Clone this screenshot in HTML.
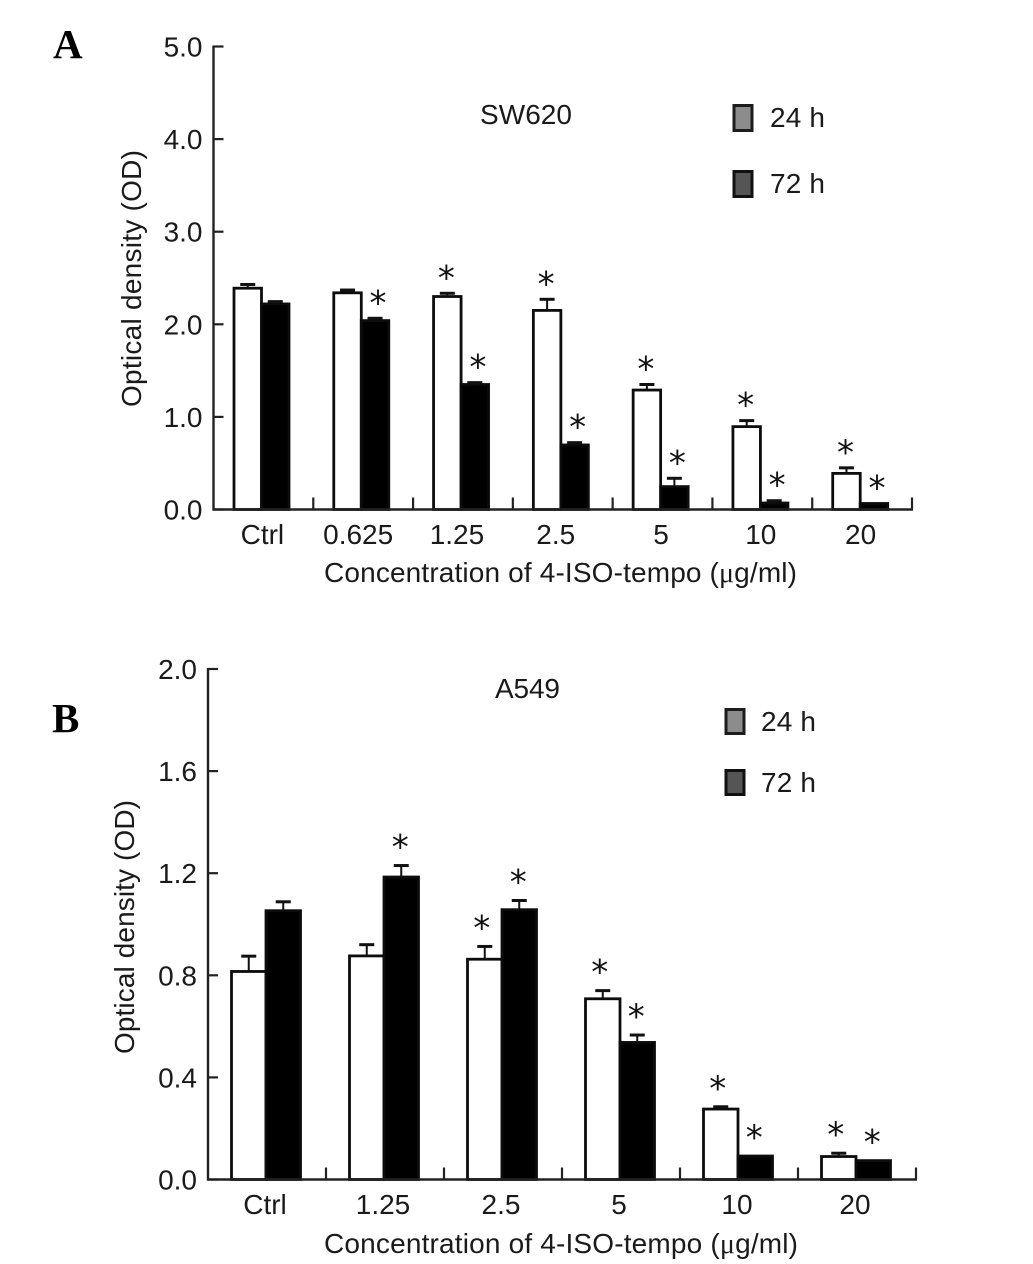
<!DOCTYPE html>
<html lang="en">
<head>
<meta charset="utf-8">
<title>Optical density of SW620 and A549 cells</title>
<style>
  html, body { margin: 0; padding: 0; background: #fff; }
  svg { display: block; }
  text { font-family: "Liberation Sans", sans-serif; fill: #1a1a1a; font-size: 28px; }
  .panel { font-family: "Liberation Serif", serif; font-weight: bold; font-size: 41px; fill: #000; }
  .mu { font-family: "Liberation Serif", serif; }
  .star { font-family: "DejaVu Sans", sans-serif; font-size: 34px; fill: #111; text-anchor: middle; }
</style>
</head>
<body>
<svg id="figure" xmlns="http://www.w3.org/2000/svg" width="1033" height="1264" viewBox="0 0 1033 1264">
  <rect width="1033" height="1264" fill="#fff"/>

  <text class="panel" x="53" y="58">A</text>
  <text x="480" y="124" textLength="92">SW620</text>
  <text transform="translate(141 407) rotate(-90)" textLength="257">Optical density (OD)</text>
  <text x="324" y="582" textLength="473">Concentration of 4-ISO-tempo (<tspan class="mu">μ</tspan>g/ml)</text>
  <rect x="734" y="105.5" width="18" height="25" fill="#8c8c8c" stroke="#1c1c1c" stroke-width="3"/>
  <text x="770" y="127" textLength="55">24 h</text>
  <rect x="734" y="171.5" width="18" height="25" fill="#555" stroke="#111" stroke-width="3"/>
  <text x="770" y="193" textLength="55">72 h</text>
  <g id="chart-a"></g>

  <text class="panel" x="52" y="732">B</text>
  <text x="495" y="698" textLength="65">A549</text>
  <text transform="translate(134 1054) rotate(-90)" textLength="254">Optical density (OD)</text>
  <text x="324" y="1253" textLength="474">Concentration of 4-ISO-tempo (<tspan class="mu">μ</tspan>g/ml)</text>
  <rect x="726" y="709.5" width="18" height="24" fill="#8c8c8c" stroke="#1c1c1c" stroke-width="3"/>
  <text x="761" y="731" textLength="55">24 h</text>
  <rect x="726" y="770.5" width="18" height="24" fill="#555" stroke="#111" stroke-width="3"/>
  <text x="761" y="792" textLength="55">72 h</text>
  <g id="chart-b"></g>
</svg>

<script>
// ---- Chart A (SW620) data ----
const categoriesA = ["Ctrl", "0.625", "1.25", "2.5", "5", "10", "20"];
const means24A = [2.39, 2.34, 2.30, 2.15, 1.29, 0.895, 0.39];
const means72A = [2.22, 2.04, 1.35, 0.697, 0.247, 0.07, 0.065];
const errors24A = [0.04, 0.03, 0.035, 0.12, 0.06, 0.065, 0.06];
const errors72A = [0.025, 0.025, 0.02, 0.025, 0.09, 0.025, 0];
const significant24A = [false, false, true, true, true, true, true];
const significant72A = [false, true, true, true, true, true, true];
const yTickValuesA = [0, 1, 2, 3, 4, 5];
const yTickLabelsA = ["0.0", "1.0", "2.0", "3.0", "4.0", "5.0"];

// ---- Chart B (A549) data ----
const categoriesB = ["Ctrl", "1.25", "2.5", "5", "10", "20"];
const means24B = [0.815, 0.876, 0.863, 0.708, 0.276, 0.09];
const means72B = [1.053, 1.185, 1.057, 0.537, 0.092, 0.074];
const errors24B = [0.06, 0.044, 0.05, 0.032, 0.009, 0.013];
const errors72B = [0.035, 0.045, 0.036, 0.029, 0, 0];
const significant24B = [false, false, true, true, true, true];
const significant72B = [false, true, true, true, true, true];
const yTickValuesB = [0, 0.4, 0.8, 1.2, 1.6, 2];
const yTickLabelsB = ["0.0", "0.4", "0.8", "1.2", "1.6", "2.0"];

const NS = "http://www.w3.org/2000/svg";

function makeLine(parent, x1, y1, x2, y2, width, color) {
  const el = document.createElementNS(NS, "line");
  el.setAttribute("x1", x1);
  el.setAttribute("y1", y1);
  el.setAttribute("x2", x2);
  el.setAttribute("y2", y2);
  el.setAttribute("stroke", color);
  el.setAttribute("stroke-width", width);
  parent.appendChild(el);
  return el;
}

function makeText(parent, x, y, content, anchor) {
  const el = document.createElementNS(NS, "text");
  el.setAttribute("x", x);
  el.setAttribute("y", y);
  el.setAttribute("text-anchor", anchor);
  el.textContent = content;
  parent.appendChild(el);
  return el;
}

function drawChart(cfg) {
  const root = document.getElementById(cfg.id);
  const yScale = v => cfg.y0 - (v / cfg.yMax) * (cfg.y0 - cfg.yTop);
  const bandWidth = (cfg.xEnd - cfg.x0) / cfg.categories.length;
  const bandStart = i => cfg.x0 + i * bandWidth;

  function drawBar(i, series, value, error, significant, starDx) {
    const x = bandStart(i) + cfg.barInset + (series === "72h" ? cfg.barWidth : 0);
    const cx = x + cfg.barWidth / 2;
    const top = yScale(value);
    const errTop = yScale(value + error);
    const rect = document.createElementNS(NS, "rect");
    rect.setAttribute("x", x);
    rect.setAttribute("y", top);
    rect.setAttribute("width", cfg.barWidth);
    rect.setAttribute("height", cfg.y0 - top);
    rect.setAttribute("fill", series === "24h" ? "#fff" : "#000");
    rect.setAttribute("stroke", "#0c0c0c");
    rect.setAttribute("stroke-width", "2.8");
    
    
    root.appendChild(rect);

    if (error > 0) {
      const stem = makeLine(root, cx, top, cx, errTop, 2, "#111");
      
      
      const cap = makeLine(root, cx - 7.5, errTop, cx + 7.5, errTop, 3, "#111");
      
      
    }
    if (significant) {
      const star = document.createElementNS(NS, "text");
      star.setAttribute("class", "star");
      star.setAttribute("x", cx + starDx);
      star.setAttribute("y", errTop - cfg.starLift);
      star.textContent = "*";
      
      
      root.appendChild(star);
    }
  }

  cfg.categories.forEach((cat, i) => {
    drawBar(i, "24h", cfg.means24[i], cfg.errors24[i], cfg.significant24[i], cfg.starDx24);
    drawBar(i, "72h", cfg.means72[i], cfg.errors72[i], cfg.significant72[i], cfg.starDx72);
  });

  const yAxis = makeLine(root, cfg.x0, cfg.yTop - 1, cfg.x0, cfg.y0 + 1, 2.4, "#222");
  
  
  const xAxis = makeLine(root, cfg.x0 - 1, cfg.y0, cfg.xEnd + 1, cfg.y0, 2.4, "#222");
  
  

  cfg.yTicks.forEach((v, i) => {
    const y = yScale(v);
    const tick = makeLine(root, cfg.x0, y, cfg.x0 + 10, y, 2.2, "#222");
    
    
    const label = makeText(root, cfg.x0 - 11, y + 10, cfg.yLabels[i], "end");
    
    
  });

  cfg.categories.forEach((cat, i) => {
    const tx = bandStart(i + 1);
    const tick = makeLine(root, tx, cfg.y0, tx, cfg.y0 - 12, 2.2, "#222");
    
    
    const lx = bandStart(i) + bandWidth / 2 + cfg.labelShift(i);
    const label = makeText(root, lx, cfg.labelY, cat, "middle");
    
    
  });
}

drawChart({
  id: "chart-a",
  categories: categoriesA,
  means24: means24A,
  means72: means72A,
  errors24: errors24A,
  errors72: errors72A,
  significant24: significant24A,
  significant72: significant72A,
  yTicks: yTickValuesA,
  yLabels: yTickLabelsA,
  yMax: 5,
  x0: 213.5,
  xEnd: 912,
  y0: 509.5,
  yTop: 46.5,
  barInset: 20.5,
  barWidth: 27.5,
  starLift: 4,
  starDx24: -1,
  starDx72: 3,
  labelY: 544,
  labelShift: i => (i === 0 ? -1 : i < 4 ? -4 - i : -1.5)
});

drawChart({
  id: "chart-b",
  categories: categoriesB,
  means24: means24B,
  means72: means72B,
  errors24: errors24B,
  errors72: errors72B,
  significant24: significant24B,
  significant72: significant72B,
  yTicks: yTickValuesB,
  yLabels: yTickLabelsB,
  yMax: 2,
  x0: 208,
  xEnd: 916,
  y0: 1179.5,
  yTop: 669,
  barInset: 23.5,
  barWidth: 34.5,
  starLift: 7,
  starDx24: -3,
  starDx72: -1,
  labelY: 1214,
  labelShift: i => -2
});
</script>
</body>
</html>
